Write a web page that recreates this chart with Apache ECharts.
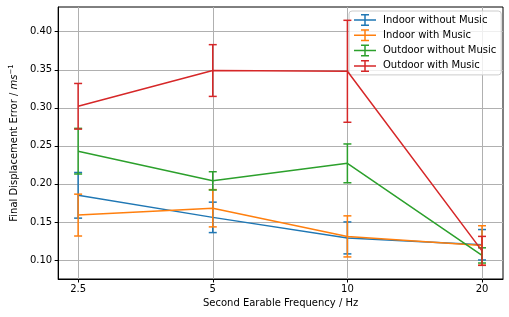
<!DOCTYPE html>
<html>
<head>
<meta charset="utf-8">
<script src="https://cdn.jsdelivr.net/npm/echarts@6/dist/echarts.min.js"></script>
<style>html,body{margin:0;padding:0;background:#fff}#c{width:509px;height:317px}</style>
</head>
<body>
<div id="c"></div>
<script>
const frequencies = [2.5, 5, 10, 20];
const xTickLabels = ['2.5', '5', '10', '20'];
const yTicks = [0.10, 0.15, 0.20, 0.25, 0.30, 0.35, 0.40];
const seriesNames = ['Indoor without Music', 'Indoor with Music', 'Outdoor without Music', 'Outdoor with Music'];
const indoorNoMusic = [0.185, 0.156, 0.129, 0.120];
const indoorNoMusicErr = [0.030, 0.020, 0.021, 0.020];
const indoorMusic = [0.159, 0.168, 0.131, 0.119];
const indoorMusicErr = [0.0275, 0.0245, 0.027, 0.026];
const outdoorNoMusic = [0.243, 0.204, 0.227, 0.106];
const outdoorNoMusicErr = [0.030, 0.012, 0.0255, 0.010];
const outdoorMusic = [0.302, 0.349, 0.348, 0.112];
const outdoorMusicErr = [0.030, 0.034, 0.067, 0.019];

const colors = ['#1f77b4', '#ff7f0e', '#2ca02c', '#d62728'];
const values = [indoorNoMusic, indoorMusic, outdoorNoMusic, outdoorMusic];
const errs = [indoorNoMusicErr, indoorMusicErr, outdoorNoMusicErr, outdoorMusicErr];
const FONT = 'DejaVu Sans';

const series = [];
values.forEach((vals, i) => {
  series.push({
    name: seriesNames[i],
    type: 'line',
    data: frequencies.map((f, j) => [f, vals[j]]),
    symbol: 'none',
    lineStyle: { color: colors[i], width: 1.5 },
    itemStyle: { color: colors[i] },
    z: 2 + i * 2,
    animation: false
  });
  series.push({
    name: seriesNames[i],
    type: 'custom',
    data: frequencies.map((f, j) => [f, vals[j] - errs[i][j], vals[j] + errs[i][j]]),
    z: 3 + i * 2,
    animation: false,
    renderItem: function (params, api) {
      const lo = api.coord([api.value(0), api.value(1)]);
      const hi = api.coord([api.value(0), api.value(2)]);
      const cw = 4;
      const st = { stroke: colors[i], lineWidth: 1.5, fill: null };
      return {
        type: 'group',
        children: [
          { type: 'line', shape: { x1: lo[0], y1: lo[1], x2: hi[0], y2: hi[1] }, style: st },
          { type: 'line', shape: { x1: lo[0] - cw, y1: lo[1], x2: lo[0] + cw, y2: lo[1] }, style: st },
          { type: 'line', shape: { x1: hi[0] - cw, y1: hi[1], x2: hi[0] + cw, y2: hi[1] }, style: st }
        ]
      };
    }
  });
});

const icon = 'path://M0,5.25h22v1.5h-22z M10.25,0h1.5v12h-1.5z M7,0h8v1.5h-8z M7,10.5h8v1.5h-8z';

const chart = echarts.init(document.getElementById('c'), null, { renderer: 'canvas' });
chart.setOption({
  animation: false,
  backgroundColor: '#fff',
  textStyle: { fontFamily: FONT },
  grid: { left: 56, right: 6, top: 7, bottom: 38, show: true, borderColor: '#000', borderWidth: 1, containLabel: false },
  legend: {
    orient: 'vertical',
    left: 349, top: 11,
    padding: [3, 5, 3, 5],
    itemWidth: 22, itemHeight: 12, itemGap: 3.3,
    icon: icon,
    backgroundColor: 'rgba(255,255,255,0.8)',
    borderColor: '#cccccc', borderWidth: 1, borderRadius: 3,
    textStyle: { fontFamily: FONT, fontSize: 10, color: '#000', padding: [0, 0, 0, 2] },
    data: seriesNames.map((n, i) => ({ name: n, itemStyle: { color: colors[i] } }))
  },
  xAxis: {
    type: 'log', logBase: 2,
    min: 2.256, max: 22.28,
    name: 'Second Earable Frequency / Hz',
    nameLocation: 'middle', nameGap: 19,
    nameTextStyle: { fontFamily: FONT, fontSize: 10, color: '#000' },
    axisLine: { show: true, lineStyle: { color: '#000', width: 1 } },
    axisTick: { show: true, length: 3.5, lineStyle: { color: '#000' }, customValues: frequencies },
    axisLabel: { fontFamily: FONT, fontSize: 10, color: '#000', margin: 5,
      customValues: frequencies,
      formatter: v => { const k = frequencies.findIndex(f => Math.abs(f - v) < 1e-6); return k >= 0 ? xTickLabels[k] : ''; } },
    splitLine: { show: true, lineStyle: { color: '#b0b0b0', width: 1 } },
    minorTick: { show: false }, minorSplitLine: { show: false }
  },
  yAxis: {
    type: 'value',
    min: 0.075, max: 0.4325,
    name: 'Final Displacement Error / {i|ms}{sup|−1}',
    nameLocation: 'middle', nameGap: 36, nameRotate: 90,
    nameTextStyle: { fontFamily: FONT, fontSize: 10, color: '#000',
      rich: { i: { fontFamily: FONT, fontSize: 10, fontStyle: 'italic', color: '#000' },
              sup: { fontFamily: FONT, fontSize: 7, color: '#000', verticalAlign: 'top', padding: [0, 0, 5, 0] } } },
    axisLine: { show: true, lineStyle: { color: '#000', width: 1 } },
    axisTick: { show: true, length: 3.5, lineStyle: { color: '#000' }, customValues: yTicks },
    axisLabel: { fontFamily: FONT, fontSize: 10, color: '#000', margin: 6,
      customValues: yTicks, formatter: v => v.toFixed(2) },
    splitLine: { show: true, lineStyle: { color: '#b0b0b0', width: 1 } }
  },
  series: series
});
</script>
</body>
</html>
